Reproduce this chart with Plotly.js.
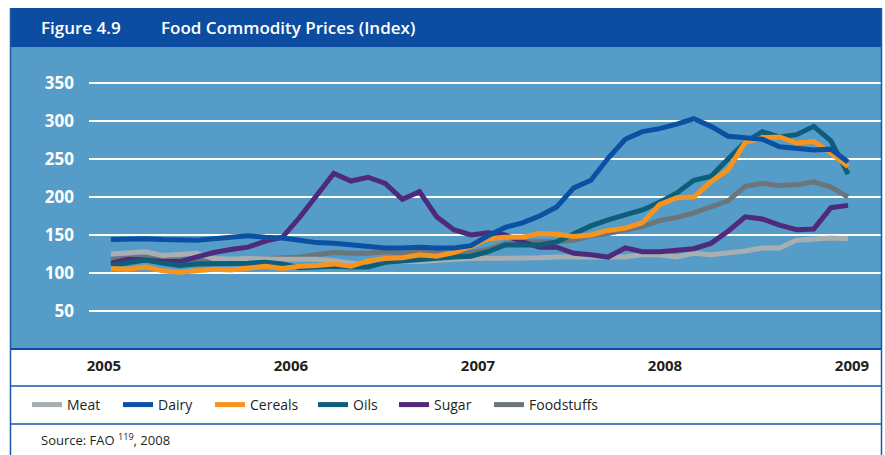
<!DOCTYPE html>
<html>
<head>
<meta charset="utf-8">
<script src="https://cdn.plot.ly/plotly-3.0.1.min.js"></script>
<style>
  html, body { margin: 0; padding: 0; background: #ffffff; }
  #chart { width: 885px; height: 455px; }
</style>
</head>
<body>
<div id="chart"></div>
<script>
// ---- Data (index values, one point per period) ----
const periods = [0,1,2,3,4,5,6,7,8,9,10,11,12,13,14,15,16,17,18,19,20,21,22,23,24,25,26,27,28,29,30,31,32,33,34,35,36,37,38,39,40,41,42,43];

const meat = [125,127,128,123,124,126,119,118,119,118,118,118,118,116,113,110,119,115,115,117,118,119,119,119,119,120,121,121,121,120,121,124,124,121,126,124,126,129,133,133,143,145,146,145];

const dairy = [144,145,145,144,143,143,145,147,149,147,146,143,140,139,137,134,133,133,134,133,133,136,149,160,166,175,187,212,222,251,276,286,290,296,303,293,280,278,276,266,264,262,263,246];

const cereals = [106,105,108,103,101,103,105,104,107,109,106,109,110,112,109,116,119,120,124,122,127,135,145,147,147,152,151,148,150,156,159,166,190,199,200,220,236,272,278,279,271,273,258,240];

const oils = [110,113,117,113,110,112,112,112,113,114,112,107,108,109,108,108,114,116,117,119,121,122,128,137,137,137,141,152,162,170,176,183,193,205,222,227,250,272,286,279,282,293,274,230];

const sugar = [113,118,117,115,115,121,127,131,134,142,147,173,202,231,221,226,218,197,207,174,157,150,153,150,141,134,134,126,124,121,133,128,128,130,132,139,155,174,171,163,157,158,186,189];

const foodstuffs = [118,119,121,118,117,117,115,116,117,118,120,121,124,127,126,126,128,126,128,127,126,127,131,139,141,141,141,143,149,152,156,161,169,173,179,187,195,214,218,215,216,220,213,200];

const seriesNames = ['Meat','Dairy','Cereals','Oils','Sugar','Foodstuffs'];
const yearLabels = ['2005','2006','2007','2008','2009'];
const yTickValues = [50,100,150,200,250,300,350];

// ---- Styling ----
const colors = {
  Meat: '#A7AFB2',
  Dairy: '#0B51A3',
  Cereals: '#F7941E',
  Oils: '#0D5E7B',
  Sugar: '#4F2A7B',
  Foodstuffs: '#6C757A'
};
const valuesByName = {
  Meat: meat, Dairy: dairy, Cereals: cereals, Oils: oils, Sugar: sugar, Foodstuffs: foodstuffs
};

// geometry helpers (pixel -> paper coordinates)
const W = 885, H = 455, ML = 89, MR = 3, MT = 47, MB = 106;
const PW = W - ML - MR, PH = H - MT - MB;
const px = v => (v - ML) / PW;
const py = v => (H - MB - v) / PH;

// one single-entry legend per series so each entry sits where the reference puts it
const legendIds = ['legend','legend2','legend3','legend4','legend5','legend6'];
const legendLeft = [27, 118, 210, 313, 394, 489];

// drawing order (bottom -> top)
const drawOrder = ['Foodstuffs','Meat','Sugar','Oils','Cereals','Dairy'];

const traces = drawOrder.map(name => {
  const k = seriesNames.indexOf(name);
  return {
    type: 'scatter',
    mode: 'lines',
    name: name,
    x: periods,
    y: valuesByName[name],
    legend: legendIds[k],
    line: { color: colors[name], width: 5 },
    hoverinfo: 'x+y+name'
  };
});

const headerBlue = '#0D4DA1';
const areaBlue = '#559DC8';
const frameBlue = '#1D58A8';

const shapes = [
  { type: 'rect', xref: 'paper', yref: 'paper', layer: 'below',
    x0: px(10), x1: px(882), y0: py(47), y1: py(8),
    fillcolor: headerBlue, line: { width: 0 } },
  { type: 'rect', xref: 'paper', yref: 'paper', layer: 'below',
    x0: px(10), x1: px(882), y0: py(349), y1: py(47),
    fillcolor: areaBlue, line: { width: 0 } },
  { type: 'line', xref: 'paper', yref: 'paper', layer: 'above',
    x0: px(10), x1: px(882), y0: py(349), y1: py(349),
    line: { color: headerBlue, width: 2 } },
  { type: 'line', xref: 'paper', yref: 'paper',
    x0: px(10), x1: px(882), y0: py(386), y1: py(386),
    line: { color: frameBlue, width: 1.5 } },
  { type: 'line', xref: 'paper', yref: 'paper',
    x0: px(10), x1: px(882), y0: py(424), y1: py(424),
    line: { color: frameBlue, width: 1.5 } },
  { type: 'line', xref: 'paper', yref: 'paper',
    x0: px(10.5), x1: px(10.5), y0: py(8), y1: py(455),
    line: { color: frameBlue, width: 1.5 } },
  { type: 'line', xref: 'paper', yref: 'paper',
    x0: px(881.5), x1: px(881.5), y0: py(8), y1: py(455),
    line: { color: frameBlue, width: 1.5 } }
];

const titleFont = { family: 'Open Sans, Noto Sans, sans-serif', size: 17, color: '#ffffff', weight: 600 };

const annotations = [
  { xref: 'paper', yref: 'paper', x: px(39), y: py(27), xanchor: 'left', yanchor: 'middle',
    text: 'Figure 4.9', showarrow: false, font: titleFont },
  { xref: 'paper', yref: 'paper', x: px(159), y: py(27), xanchor: 'left', yanchor: 'middle',
    text: 'Food Commodity Prices (Index)', showarrow: false, font: titleFont },
  { xref: 'paper', yref: 'paper', x: px(39), y: py(440), xanchor: 'left', yanchor: 'middle',
    text: 'Source: FAO <sup>119</sup>, 2008', showarrow: false,
    font: { family: 'Open Sans, Noto Sans, sans-serif', size: 13, color: '#231F20' } }
];

const layout = {
  width: W,
  height: H,
  margin: { l: ML, r: MR, t: MT, b: MB, pad: 0 },
  paper_bgcolor: '#ffffff',
  plot_bgcolor: 'rgba(0,0,0,0)',
  showlegend: true,
  xaxis: {
    range: [-1.28, 44.98],
    tickmode: 'array',
    tickvals: [-0.41, 10.5, 21.41, 32.32, 43.23],
    ticktext: yearLabels,
    showgrid: false,
    zeroline: false,
    showline: false,
    ticks: '',
    ticklabelstandoff: 6,
    tickfont: { family: 'Open Sans, Noto Sans, sans-serif', size: 15, weight: 700, color: '#231F20' },
    fixedrange: true
  },
  yaxis: {
    range: [0, 397.4],
    tickmode: 'array',
    tickvals: yTickValues,
    showgrid: true,
    gridcolor: '#ffffff',
    gridwidth: 1.5,
    zeroline: false,
    showline: false,
    ticks: '',
    ticklabelstandoff: 14,
    tickfont: { family: 'Open Sans, Noto Sans, sans-serif', size: 17, weight: 700, color: '#ffffff' },
    fixedrange: true
  },
  shapes: shapes,
  annotations: annotations
};

legendIds.forEach((id, k) => {
  layout[id] = {
    orientation: 'h',
    x: px(legendLeft[k]),
    xanchor: 'left',
    y: py(405),
    yanchor: 'middle',
    bgcolor: 'rgba(0,0,0,0)',
    font: { family: 'Open Sans, Noto Sans, sans-serif', size: 14, color: '#231F20' },
    itemwidth: 30
  };
});

Plotly.newPlot('chart', traces, layout, { displayModeBar: false, staticPlot: true });
</script>
</body>
</html>
